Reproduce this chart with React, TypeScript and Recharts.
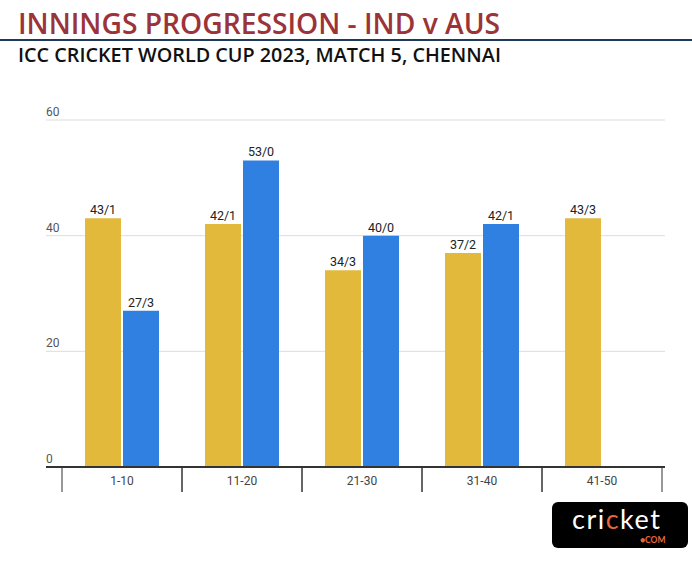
import React from "react";
import { BarChart, Bar, XAxis, YAxis, CartesianGrid, LabelList } from "recharts";

const categories = ["1-10", "11-20", "21-30", "31-40", "41-50"];
const ausRuns = [43, 42, 34, 37, 43];
const ausWkts = [1, 1, 3, 2, 3];
const indRuns: (number | null)[] = [27, 53, 40, 42, null];
const indWkts: (number | null)[] = [3, 0, 0, 1, null];
const yTicks = [0, 20, 40, 60];

const data = categories.map((c, i) => ({
  cat: c,
  aus: ausRuns[i],
  ausLabel: `${ausRuns[i]}/${ausWkts[i]}`,
  ind: indRuns[i],
  indLabel: indRuns[i] == null ? "" : `${indRuns[i]}/${indWkts[i]}`,
}));

const YELLOW = "#E2B93B";
const BLUE = "#2F80E1";

const XTick = (props: any) => {
  const { x, y, payload } = props;
  const off = payload.offset || 0;
  return (
    <g>
      <line x1={x - off} x2={x - off} y1={y} y2={y + 25} stroke="#333" strokeWidth={1} />
      <line x1={x + off} x2={x + off} y1={y} y2={y + 25} stroke="#333" strokeWidth={1} />
      <text x={x} y={y + 18} textAnchor="middle" fontSize={12} fill="#444" fontFamily="Roboto, sans-serif">
        {payload.value}
      </text>
    </g>
  );
};

const YTick = (props: any) => {
  const { x, y, payload } = props;
  return (
    <text x={x} y={y - 4} textAnchor="start" fontSize={12} fill="#555" fontFamily="Roboto, sans-serif">
      {payload.value}
    </text>
  );
};

export default function App() {
  return (
    <div style={{ position: "absolute", left: 0, top: 0, width: 692, height: 563, background: "#fff", overflow: "hidden" }}>
      <div
        style={{
          position: "absolute",
          left: 18,
          top: 4,
          fontFamily: "'Open Sans', sans-serif",
          fontWeight: 600,
          fontSize: 28.2,
          color: "#9B3338",
          whiteSpace: "nowrap",
        }}
      >
        INNINGS PROGRESSION - IND v AUS
      </div>
      <div style={{ position: "absolute", left: 0, top: 39, width: 692, height: 2, background: "#1E3A5C" }} />
      <div
        style={{
          position: "absolute",
          left: 18,
          top: 41,
          fontFamily: "'Open Sans', sans-serif",
          fontWeight: 600,
          fontSize: 19.8,
          color: "#111",
          whiteSpace: "nowrap",
        }}
      >
        ICC CRICKET WORLD CUP 2023, MATCH 5, CHENNAI
      </div>
      <div style={{ position: "absolute", left: 0, top: 0 }}>
        <BarChart
          width={692}
          height={563}
          data={data}
          margin={{ top: 120, right: 27, bottom: 66, left: 30 }}
          barGap={2}
          barSize={36}
        >
          <CartesianGrid horizontal={true} vertical={false} stroke="#DDDDDD" />
          <XAxis
            dataKey="cat"
            padding={{ left: 16, right: 3 }}
            height={30}
            axisLine={{ stroke: "#333", strokeWidth: 2 }}
            tickLine={false}
            tick={<XTick />}
            interval={0}
            tickSize={0}
            tickMargin={0}
          />
          <YAxis
            width={16}
            domain={[0, 60]}
            ticks={yTicks}
            axisLine={false}
            tickLine={false}
            tickSize={0}
            tickMargin={0}
            tick={<YTick />}
            interval={0}
          />
          <Bar dataKey="aus" fill={YELLOW} isAnimationActive={false}>
            <LabelList dataKey="ausLabel" position="top" offset={4} fontSize={12.5} fill="#222" fontFamily="Roboto, sans-serif" />
          </Bar>
          <Bar dataKey="ind" fill={BLUE} isAnimationActive={false}>
            <LabelList dataKey="indLabel" position="top" offset={4} fontSize={12.5} fill="#222" fontFamily="Roboto, sans-serif" />
          </Bar>
        </BarChart>
      </div>
      <div
        style={{
          position: "absolute",
          left: 552,
          top: 502,
          width: 136,
          height: 46,
          background: "#000",
          borderRadius: 6,
          fontFamily: "Lato, sans-serif",
        }}
      >
        <div style={{ position: "absolute", left: 20, top: 3, color: "#fff", fontSize: 27, letterSpacing: 1.5, lineHeight: "28px" }}>
          cri<span style={{ color: "#E8673C" }}>c</span>ket
        </div>
        <div style={{ position: "absolute", left: 88, top: 34, color: "#E8673C", fontSize: 8.5, fontWeight: 700, lineHeight: "9px" }}>●COM</div>
      </div>
    </div>
  );
}
